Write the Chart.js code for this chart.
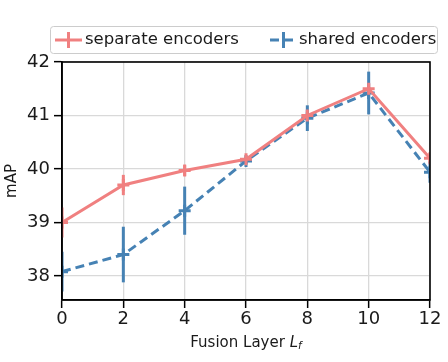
<!DOCTYPE html>
<html>
<head>
<meta charset="utf-8">
<script src="https://cdn.jsdelivr.net/npm/chart.js@4"></script>
<style>
  html, body { margin: 0; padding: 0; background: #fff; }
  #wrap { width: 448px; height: 362px; }
</style>
</head>
<body>
<div id="wrap"><canvas id="chart" width="448" height="362"></canvas></div>
<script>
// Data
const layers = [0, 2, 4, 6, 8, 10, 12];
const separateMAP = [39.0, 39.7, 39.97, 40.18, 41.0, 41.5, 40.2];
const separateErr = [0.28, 0.19, 0.1, 0.06, 0.1, 0.1, 0.1];
const sharedMAP = [38.08, 38.4, 39.22, 40.15, 40.95, 41.42, 39.94];
const sharedErr = [0.37, 0.52, 0.45, 0.06, 0.24, 0.4, 0.2];
const yTicks = [38, 39, 40, 41, 42];
const xTicks = [0, 2, 4, 6, 8, 10, 12];

const pink = 'rgb(240,128,128)';
const blue = 'rgb(70,130,180)';
const FONT = 'DejaVu Sans';

// error bars, frame, legend and x title
const extras = {
    id: 'extras',
    beforeDatasetsDraw(chart) {
        const { ctx, chartArea, scales } = chart;
        ctx.save();
        ctx.beginPath();
        ctx.rect(chartArea.left, chartArea.top, chartArea.right - chartArea.left, chartArea.bottom - chartArea.top);
        ctx.clip();
        chart.data.datasets.forEach(ds => {
            ctx.strokeStyle = ds.borderColor;
            ctx.lineWidth = 3;
            ds.data.forEach((p, i) => {
                const x = scales.x.getPixelForValue(p.x);
                ctx.beginPath();
                ctx.moveTo(x, scales.y.getPixelForValue(p.y - ds.errors[i]));
                ctx.lineTo(x, scales.y.getPixelForValue(p.y + ds.errors[i]));
                ctx.stroke();
            });
        });
        ctx.restore();
    },
    afterDraw(chart) {
        const { ctx, chartArea } = chart;
        ctx.save();
        // axes frame
        ctx.strokeStyle = '#000';
        ctx.lineWidth = 1.6;
        ctx.strokeRect(chartArea.left, chartArea.top, chartArea.right - chartArea.left, chartArea.bottom - chartArea.top);

        // legend
        const bx = 50, by = 26, bw = 387, bh = 27;
        ctx.fillStyle = 'rgba(255,255,255,0.85)';
        ctx.strokeStyle = '#cccccc';
        ctx.lineWidth = 1;
        ctx.beginPath();
        ctx.roundRect(bx + 0.5, by + 0.5, bw, bh, 3);
        ctx.fill();
        ctx.stroke();
        const entries = [{ x: 55, tx: 85 }, { x: 270, tx: 299 }];
        chart.data.datasets.forEach((ds, i) => {
            const e = entries[i];
            const cy = by + bh / 2 + 0.5;
            ctx.strokeStyle = ds.borderColor;
            ctx.lineWidth = 3;
            ctx.setLineDash(ds.borderDash || []);
            ctx.beginPath();
            ctx.moveTo(e.x, cy);
            ctx.lineTo(e.x + 27, cy);
            ctx.stroke();
            ctx.setLineDash([]);
            ctx.beginPath();
            ctx.moveTo(e.x + 13.5, cy - 8);
            ctx.lineTo(e.x + 13.5, cy + 8);
            ctx.stroke();
            ctx.fillStyle = '#1a1a1a';
            ctx.font = '16.5px "' + FONT + '"';
            ctx.textBaseline = 'middle';
            ctx.textAlign = 'left';
            ctx.fillText(ds.label, e.tx, cy);
        });

        // x axis title with italic L_f
        ctx.fillStyle = '#1a1a1a';
        ctx.textBaseline = 'alphabetic';
        const main = 'Fusion Layer ';
        ctx.font = '15px "' + FONT + '"';
        const w1 = ctx.measureText(main).width;
        ctx.font = 'italic 15px "' + FONT + '"';
        const w2 = ctx.measureText('L').width;
        ctx.font = 'italic 10.5px "' + FONT + '"';
        const w3 = ctx.measureText('f').width;
        let x0 = (chartArea.left + chartArea.right) / 2 - (w1 + w2 + w3) / 2;
        const yb = 347;
        ctx.font = '15px "' + FONT + '"';
        ctx.fillText(main, x0, yb);
        ctx.font = 'italic 15px "' + FONT + '"';
        ctx.fillText('L', x0 + w1, yb);
        ctx.font = 'italic 10.5px "' + FONT + '"';
        ctx.fillText('f', x0 + w1 + w2, yb + 2);
        ctx.restore();
    }
};

new Chart(document.getElementById('chart').getContext('2d'), {
    type: 'line',
    data: {
        datasets: [{
            label: 'separate encoders',
            data: layers.map((l, i) => ({ x: l, y: separateMAP[i] })),
            errors: separateErr,
            borderColor: pink,
            backgroundColor: pink,
            borderWidth: 3,
            pointStyle: 'cross',
            pointRadius: 6,
            pointBorderWidth: 3,
            tension: 0
        }, {
            label: 'shared encoders',
            data: layers.map((l, i) => ({ x: l, y: sharedMAP[i] })),
            errors: sharedErr,
            borderColor: blue,
            backgroundColor: blue,
            borderWidth: 3,
            borderDash: [9, 5],
            pointStyle: 'cross',
            pointRadius: 6,
            pointBorderWidth: 3,
            tension: 0
        }]
    },
    options: {
        responsive: false,
        animation: false,
        layout: { padding: { top: 62, right: 18, left: 0, bottom: 0 } },
        plugins: {
            legend: { display: false },
            tooltip: { enabled: false }
        },
        scales: {
            x: {
                type: 'linear',
                min: 0,
                max: 12,
                afterBuildTicks: axis => { axis.ticks = xTicks.map(v => ({ value: v })); },
                afterFit: axis => { axis.height = 62; },
                grid: { color: '#d9d9d9', lineWidth: 1.3, tickColor: '#000', tickLength: 8, tickWidth: 1.5 },
                border: { color: '#000', width: 1.6 },
                ticks: { color: '#1a1a1a', font: { family: FONT, size: 18 }, padding: 1 }
            },
            y: {
                min: 37.55,
                max: 42,
                afterBuildTicks: axis => { axis.ticks = yTicks.map(v => ({ value: v })); },
                afterFit: axis => { axis.width = 62; },
                grid: { color: '#d9d9d9', lineWidth: 1.3, tickColor: '#000', tickLength: 8, tickWidth: 1.5 },
                border: { color: '#000', width: 1.6 },
                title: { display: true, text: 'mAP', color: '#1a1a1a', font: { family: FONT, size: 15 }, padding: { top: 3, bottom: 0 } },
                ticks: { color: '#1a1a1a', font: { family: FONT, size: 18 }, padding: 4 }
            }
        }
    },
    plugins: [extras]
});
</script>
</body>
</html>
